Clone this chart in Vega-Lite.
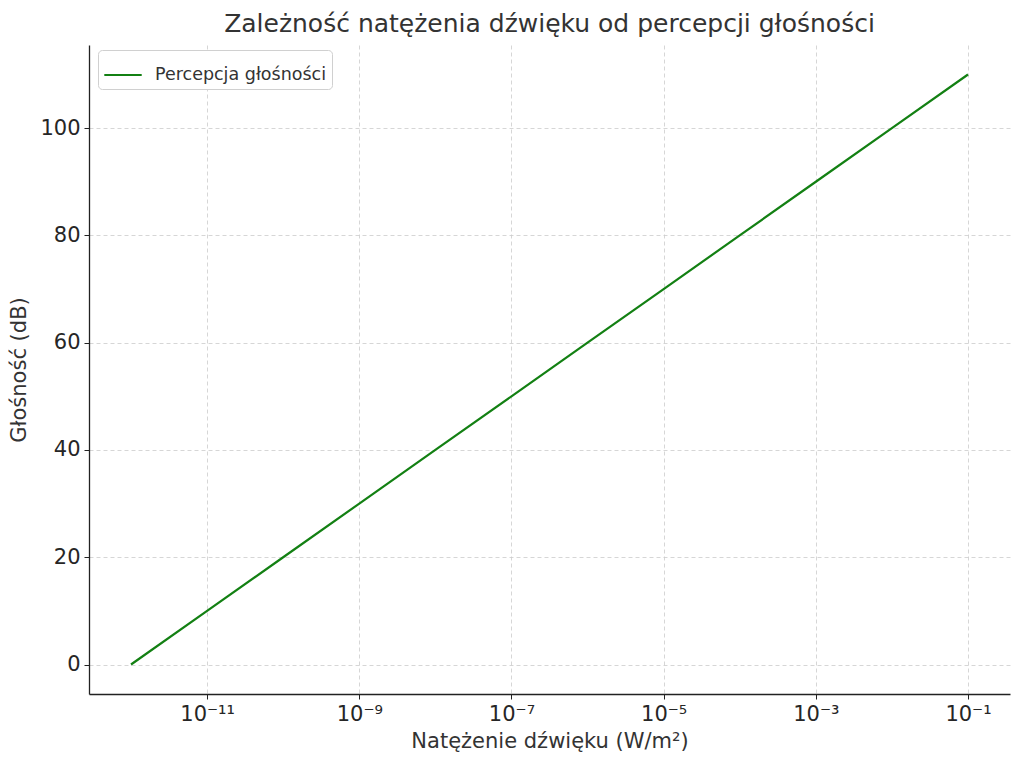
{
  "$schema": "https://vega.github.io/schema/vega-lite/v6.json",
  "autosize": "none",
  "width": 921,
  "height": 649,
  "padding": {"left": 89, "top": 45, "right": 14, "bottom": 71},
  "background": "white",
  "title": {
    "text": "Zależność natężenia dźwięku od percepcji głośności",
    "font": "DejaVu Sans",
    "fontSize": 25,
    "fontWeight": "normal",
    "color": "#333333",
    "anchor": "middle",
    "offset": 8
  },
  "data": {
    "values": [
      {"natezenie": 1e-12, "glosnosc": 0, "seria": "Percepcja głośności"},
      {"natezenie": 1e-11, "glosnosc": 10, "seria": "Percepcja głośności"},
      {"natezenie": 1e-10, "glosnosc": 20, "seria": "Percepcja głośności"},
      {"natezenie": 1e-9, "glosnosc": 30, "seria": "Percepcja głośności"},
      {"natezenie": 1e-8, "glosnosc": 40, "seria": "Percepcja głośności"},
      {"natezenie": 1e-7, "glosnosc": 50, "seria": "Percepcja głośności"},
      {"natezenie": 1e-6, "glosnosc": 60, "seria": "Percepcja głośności"},
      {"natezenie": 1e-5, "glosnosc": 70, "seria": "Percepcja głośności"},
      {"natezenie": 1e-4, "glosnosc": 80, "seria": "Percepcja głośności"},
      {"natezenie": 1e-3, "glosnosc": 90, "seria": "Percepcja głośności"},
      {"natezenie": 1e-2, "glosnosc": 100, "seria": "Percepcja głośności"},
      {"natezenie": 1e-1, "glosnosc": 110, "seria": "Percepcja głośności"}
    ]
  },
  "mark": {"type": "line", "strokeWidth": 2.2, "clip": true},
  "encoding": {
    "x": {
      "field": "natezenie",
      "type": "quantitative",
      "title": "Natężenie dźwięku (W/m²)",
      "scale": {"type": "log", "domain": [2.805e-13, 0.3565], "nice": false},
      "axis": {
        "values": [1e-11, 1e-9, 1e-7, 1e-5, 1e-3, 1e-1],
        "labelExpr": "'10' + replace(replace(replace(replace(replace(replace(replace('' + round(log(datum.value) / LN10), /-/g, '⁻'), /1/g, '¹'), /3/g, '³'), /5/g, '⁵'), /7/g, '⁷'), /9/g, '⁹'), /0/g, '⁰')"
      }
    },
    "y": {
      "field": "glosnosc",
      "type": "quantitative",
      "title": "Głośność (dB)",
      "scale": {"domain": [-5.5, 115.5], "nice": false, "zero": false},
      "axis": {"values": [0, 20, 40, 60, 80, 100]}
    },
    "color": {
      "field": "seria",
      "type": "nominal",
      "title": null,
      "scale": {"range": ["#138013"]},
      "legend": {
        "orient": "none",
        "legendX": 9,
        "legendY": 5,
        "symbolType": "stroke",
        "symbolSize": 1400,
        "symbolStrokeWidth": 2.2,
        "labelFontSize": 17.5,
        "labelFont": "DejaVu Sans",
        "labelColor": "#333333",
        "labelOffset": 12,
        "labelLimit": 400,
        "fillColor": "white",
        "strokeColor": "#d0d0d0",
        "cornerRadius": 4,
        "padding": 5
      }
    }
  },
  "config": {
    "view": {"stroke": null},
    "axis": {
      "labelFont": "DejaVu Sans",
      "titleFont": "DejaVu Sans",
      "labelFontSize": 21,
      "titleFontSize": 21,
      "titleFontWeight": "normal",
      "labelColor": "#262626",
      "titleColor": "#333333",
      "domainColor": "#222222",
      "domainWidth": 1.3,
      "tickColor": "#222222",
      "tickSize": 5,
      "labelPadding": 4,
      "grid": true,
      "gridColor": "#cccccc",
      "gridDash": [4, 3],
      "gridWidth": 0.8
    },
    "axisX": {"titlePadding": 6},
    "axisY": {"titlePadding": 10}
  }
}
